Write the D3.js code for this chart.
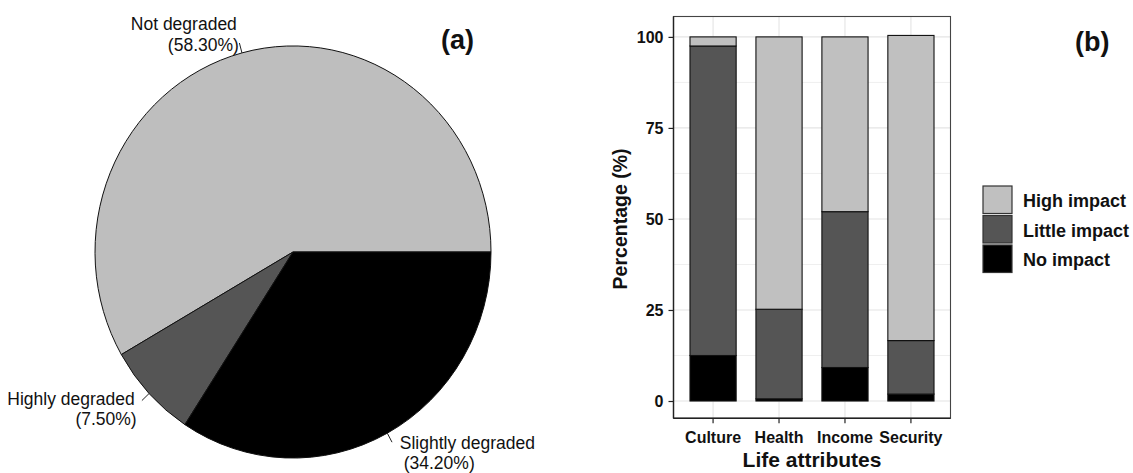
<!DOCTYPE html>
<html>
<head>
<meta charset="utf-8">
<script src="https://cdn.jsdelivr.net/npm/d3@7"></script>
<style>
  html, body { margin: 0; padding: 0; background: #fff; }
  svg { display: block; font-family: "Liberation Sans", Arial, sans-serif; }
</style>
</head>
<body>
<svg id="chart" width="1133" height="473"></svg>
<script>
// ---- (a) land degradation shares ----
const pieLabels = ["Not degraded", "Highly degraded", "Slightly degraded"];
const pieValues = [58.3, 7.5, 34.2];
const pieColors = ["#bebebe", "#555555", "#000000"];

// ---- (b) impact on life attributes (stacked percentages) ----
const attributes = ["Culture", "Health", "Income", "Security"];
const impactLevels = ["No impact", "Little impact", "High impact"];
const noImpact     = [12.5, 0.6, 9.2, 1.9];
const littleImpact = [85.0, 24.6, 42.8, 14.7];
const highImpact   = [2.5, 74.8, 48.0, 83.8];
const yTicks = [0, 25, 50, 75, 100];
const yMinorTicks = [12.5, 37.5, 62.5, 87.5];
const legendOrder = ["High impact", "Little impact", "No impact"];
const impactColors = {"No impact": "#000000", "Little impact": "#555555", "High impact": "#c0c0c0"};

const svg = d3.select("#chart");

// ================= Pie (a) =================
const cx = 293, cy = 252, rx = 198, ry = 206;
const pieGroup = svg.append("g").attr("transform", `translate(${cx},${cy})`);

// angles run counter-clockwise from 3 o'clock
const pie = d3.pie().sort(null).value(d => d.v)
  .startAngle(Math.PI / 2).endAngle(Math.PI / 2 - 2 * Math.PI);
const slices = pie(pieLabels.map((l, i) => ({l, v: pieValues[i], c: pieColors[i]})));
const arc = d3.arc().innerRadius(0).outerRadius(1);

pieGroup.append("g").attr("transform", `scale(${rx},${ry})`)
  .selectAll("path").data(slices).join("path")
  .attr("d", arc)
  .attr("fill", d => d.data.c)
  .attr("stroke", "#111")
  .attr("stroke-width", 1)
  .attr("vector-effect", "non-scaling-stroke");

const pt = (a, k) => [Math.sin(a) * rx * k, -Math.cos(a) * ry * k];
slices.forEach(s => {
  const m = (s.startAngle + s.endAngle) / 2;
  const p0 = pt(m, 1), p1 = pt(m, 1.05), p2 = pt(m, 1.1);
  pieGroup.append("line")
    .attr("x1", p0[0]).attr("y1", p0[1]).attr("x2", p1[0]).attr("y2", p1[1])
    .attr("stroke", "#222").attr("stroke-width", 1);
  const anchor = p2[0] < 0 ? "end" : "start";
  const t = pieGroup.append("text")
    .attr("x", p2[0]).attr("y", p2[1])
    .attr("text-anchor", anchor)
    .attr("font-size", 17.5).attr("fill", "#111");
  t.append("tspan").attr("x", p2[0] + (anchor === "end" ? 0 : 3)).attr("dy", "-0.15em").text(s.data.l);
  t.append("tspan").attr("x", p2[0] + (anchor === "end" ? 2 : 7)).attr("dy", "1.17em")
    .text(`(${s.data.v.toFixed(2)}%)`);
});

svg.append("text").attr("x", 441).attr("y", 49)
  .attr("font-size", 27).attr("font-weight", "bold").attr("fill", "#111").text("(a)");

// ================= Stacked bars (b) =================
const panel = {left: 673.5, right: 950.5, top: 16.5, bottom: 418.3};
const x = d3.scaleBand().domain(attributes)
  .range([panel.left, panel.right]).paddingInner(0.3).paddingOuter(0.25);
const y = d3.scaleLinear().domain([-4.75, 105.6]).range([panel.bottom, panel.top]);

const plot = svg.append("g");

// grid
plot.selectAll("line.minor").data(yMinorTicks).join("line")
  .attr("x1", panel.left).attr("x2", panel.right)
  .attr("y1", d => y(d)).attr("y2", d => y(d))
  .attr("stroke", "#efefef").attr("stroke-width", 1);
plot.selectAll("line.major").data(yTicks).join("line")
  .attr("x1", panel.left).attr("x2", panel.right)
  .attr("y1", d => y(d)).attr("y2", d => y(d))
  .attr("stroke", "#e4e4e4").attr("stroke-width", 1.1);
plot.selectAll("line.vgrid").data(attributes).join("line")
  .attr("x1", d => x(d) + x.bandwidth() / 2).attr("x2", d => x(d) + x.bandwidth() / 2)
  .attr("y1", panel.top).attr("y2", panel.bottom)
  .attr("stroke", "#e4e4e4").attr("stroke-width", 1.1);

// stacked bars
const rows = attributes.map((a, i) => ({
  attr: a, "No impact": noImpact[i], "Little impact": littleImpact[i], "High impact": highImpact[i]
}));
const stacked = d3.stack().keys(impactLevels)(rows);
plot.selectAll("g.layer").data(stacked).join("g")
  .attr("fill", d => impactColors[d.key])
  .selectAll("rect").data(d => d).join("rect")
  .attr("x", d => x(d.data.attr))
  .attr("width", x.bandwidth())
  .attr("y", d => y(d[1]))
  .attr("height", d => y(d[0]) - y(d[1]))
  .attr("stroke", "#111").attr("stroke-width", 1.1);

// panel border
plot.append("rect")
  .attr("x", panel.left).attr("y", panel.top)
  .attr("width", panel.right - panel.left).attr("height", panel.bottom - panel.top)
  .attr("fill", "none").attr("stroke", "#444").attr("stroke-width", 1.1);

// axes
const yAxis = d3.axisLeft(y).tickValues(yTicks).tickSize(5).tickPadding(5).tickFormat(d3.format("d"));
const gy = svg.append("g").attr("transform", `translate(${panel.left},0)`).call(yAxis);
const xAxis = d3.axisBottom(x).tickSize(5).tickPadding(8);
const gx = svg.append("g").attr("transform", `translate(0,${panel.bottom})`).call(xAxis);
[gy, gx].forEach(g => {
  g.select(".domain").attr("stroke", "#222").attr("stroke-width", 1.4);
  g.selectAll(".tick line").attr("stroke", "#222").attr("stroke-width", 1.2);
  g.selectAll(".tick text").attr("font-size", 16).attr("font-weight", "bold")
    .attr("fill", "#111").attr("font-family", "Liberation Sans, Arial, sans-serif");
});
gy.select(".domain").attr("d", `M0,${panel.top}V${panel.bottom}`);
gx.select(".domain").attr("d", `M${panel.left},0H${panel.right}`);

// axis titles
svg.append("text")
  .attr("transform", `translate(627,${(y(0) + y(100)) / 2}) rotate(-90)`)
  .attr("text-anchor", "middle").attr("font-size", 19.5).attr("font-weight", "bold")
  .attr("fill", "#111").text("Percentage (%)");
svg.append("text")
  .attr("x", (panel.left + panel.right) / 2).attr("y", 467)
  .attr("text-anchor", "middle").attr("font-size", 21).attr("font-weight", "bold")
  .attr("fill", "#111").text("Life attributes");

// legend
const legend = svg.append("g").attr("transform", "translate(983,186)");
const item = legend.selectAll("g").data(legendOrder).join("g")
  .attr("transform", (d, i) => `translate(0,${i * 29.5})`);
item.append("rect").attr("width", 29).attr("height", 27.5)
  .attr("fill", d => impactColors[d]).attr("stroke", "#333").attr("stroke-width", 1.2);
item.append("text").attr("x", 40).attr("y", 21)
  .attr("font-size", 18).attr("font-weight", "bold").attr("fill", "#111").text(d => d);

svg.append("text").attr("x", 1075).attr("y", 51)
  .attr("font-size", 27).attr("font-weight", "bold").attr("fill", "#111").text("(b)");
</script>
</body>
</html>
